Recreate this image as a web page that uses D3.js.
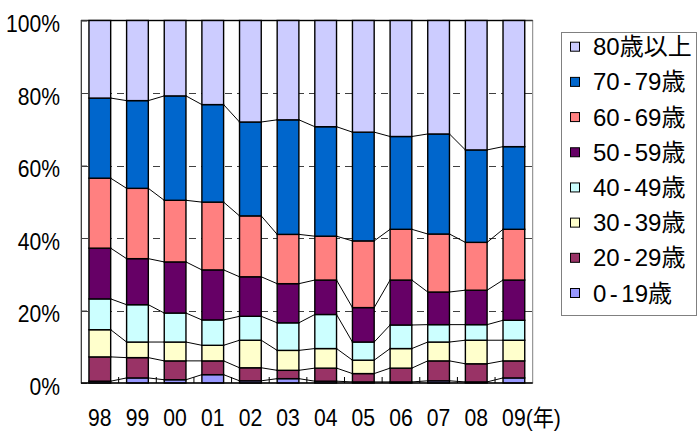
<!DOCTYPE html>
<html>
<head>
<meta charset="utf-8">
<script src="https://cdn.jsdelivr.net/npm/d3@7"></script>
<style>
  html, body { margin: 0; padding: 0; background: #fff; }
  svg { display: block; }
  text { font-family: "Liberation Sans", Arial, "Noto Sans CJK JP", sans-serif; fill: #000; }
</style>
</head>
<body>
<svg id="chart" width="698" height="432"></svg>
<script>
// Years (x categories)
const years = ["98", "99", "00", "01", "02", "03", "04", "05", "06", "07", "08", "09"];

// Share of each age group per year (%)
const age0_19   = [0.5, 1.4, 0.9, 2.3, 0.6, 1.2, 0.5, 0.3, 0.3, 0.6, 0.3, 1.4];
const age20_29  = [6.7, 5.6, 5.2, 3.8, 3.6, 2.3, 3.6, 2.3, 3.8, 5.5, 5.0, 4.7];
const age30_39  = [7.5, 4.3, 5.2, 4.3, 7.6, 5.5, 5.4, 3.7, 5.4, 5.2, 6.5, 5.7];
const age40_49  = [8.5, 10.3, 8.0, 7.0, 6.6, 7.6, 9.4, 5.0, 6.5, 4.8, 4.3, 5.5];
const age50_59  = [14.0, 12.7, 14.1, 13.8, 10.9, 10.8, 9.5, 9.5, 12.4, 9.0, 9.5, 11.1];
const age60_69  = [19.3, 19.4, 17.0, 18.7, 16.8, 13.6, 12.1, 18.4, 14.0, 16.0, 13.2, 14.0];
const age70_79  = [22.1, 24.2, 28.8, 26.9, 25.9, 31.6, 30.2, 30.0, 25.6, 27.6, 25.5, 22.8];
const age80plus = [21.4, 22.1, 20.8, 23.2, 28.0, 27.4, 29.3, 30.8, 32.0, 31.3, 35.7, 34.8];

// Series names, bottom of the stack first
const seriesNames = ["0-19歳", "20-29歳", "30-39歳", "40-49歳", "50-59歳", "60-69歳", "70-79歳", "80歳以上"];
const seriesValues = [age0_19, age20_29, age30_39, age40_49, age50_59, age60_69, age70_79, age80plus];
const seriesColors = ["#9999FF", "#993366", "#FFFFCC", "#CCFFFF", "#660066", "#FF8080", "#0066CC", "#CCCCFF"];

// Y-axis tick labels
const yTicks = [0, 0.2, 0.4, 0.6, 0.8, 1];
const yTickLabels = ["0%", "20%", "40%", "60%", "80%", "100%"];
const yearUnit = "(年)";

const svg = d3.select("#chart");
const plot = { left: 81, right: 532.7, top: 20.5, bottom: 383 };
const axisFont = 24;
const axisSqueeze = 0.88;

// Rows for the stack layout
const rows = years.map((yr, i) => {
  const r = { year: yr };
  seriesNames.forEach((s, k) => { r[s] = seriesValues[k][i]; });
  return r;
});
const stacked = d3.stack().keys(seriesNames).offset(d3.stackOffsetExpand)(rows);

const x = d3.scaleBand().domain(years).range([plot.left, plot.right])
  .paddingInner(0.423).paddingOuter(0.2115);
const y = d3.scaleLinear().domain([0, 1]).range([plot.bottom, plot.top]);
const step = x.step();
const bw = x.bandwidth();

// Plot frame
svg.append("rect")
  .attr("x", plot.left).attr("y", plot.top)
  .attr("width", plot.right - plot.left).attr("height", plot.bottom - plot.top)
  .attr("fill", "#fff").attr("stroke", "#808080").attr("stroke-width", 1);

// Dashed gridlines
svg.append("g").selectAll("line")
  .data(yTicks.filter(t => t > 0 && t < 1))
  .join("line")
  .attr("x1", plot.left).attr("x2", plot.right)
  .attr("y1", d => Math.round(y(d)) + 0.5).attr("y2", d => Math.round(y(d)) + 0.5)
  .attr("stroke", "#404040").attr("stroke-width", 1)
  .attr("stroke-dasharray", "7,5");

// Top border line
svg.append("line")
  .attr("x1", plot.left).attr("x2", plot.right)
  .attr("y1", plot.top).attr("y2", plot.top)
  .attr("stroke", "#333").attr("stroke-width", 1.5);

// Series lines joining segment tops of neighbouring bars
const seriesLineG = svg.append("g");
stacked.forEach(layer => {
  for (let i = 0; i < layer.length - 1; i++) {
    seriesLineG.append("line")
      .attr("x1", x(years[i]) + bw).attr("y1", y(layer[i][1]))
      .attr("x2", x(years[i + 1])).attr("y2", y(layer[i + 1][1]))
      .attr("stroke", "#000").attr("stroke-width", 1);
  }
});

// Stacked bars
svg.append("g").selectAll("g")
  .data(stacked)
  .join("g")
  .attr("fill", (d, k) => seriesColors[k])
  .selectAll("rect")
  .data(d => d.map(v => Object.assign(v, { year: v.data.year })))
  .join("rect")
  .attr("x", d => x(d.year))
  .attr("y", d => y(d[1]))
  .attr("width", bw)
  .attr("height", d => y(d[0]) - y(d[1]))
  .attr("stroke", "#000").attr("stroke-width", 1.4);

// Left axis with inside ticks
const yAxis = svg.append("g").attr("transform", `translate(${plot.left},0)`)
  .call(d3.axisLeft(y).tickValues(yTicks).tickSizeInner(-6).tickSizeOuter(0).tickFormat(""));
yAxis.select(".domain").attr("stroke", "#404040");
yAxis.selectAll(".tick line").attr("stroke", "#404040");

// Y labels (slightly condensed)
svg.append("g").selectAll("text")
  .data(yTicks)
  .join("text")
  .attr("transform", d => `translate(60,${y(d) + 11.5}) scale(${axisSqueeze},1)`)
  .attr("text-anchor", "end")
  .attr("font-size", axisFont)
  .text((d, i) => yTickLabels[i]);

// Bottom axis: category boundary ticks pointing inward
const boundaries = d3.range(1, years.length).map(k => plot.left + k * step);
svg.append("g").selectAll("line")
  .data(boundaries)
  .join("line")
  .attr("x1", d => d).attr("x2", d => d)
  .attr("y1", plot.bottom).attr("y2", plot.bottom - 6)
  .attr("stroke", "#000").attr("stroke-width", 1);
svg.append("line")
  .attr("x1", plot.left).attr("x2", plot.right)
  .attr("y1", plot.bottom).attr("y2", plot.bottom)
  .attr("stroke", "#000").attr("stroke-width", 1.5);

// Year labels (slightly condensed); the unit follows the last year
const xFont = 23;
const xLabels = svg.append("g");
years.forEach((yr, i) => {
  const g = xLabels.append("g")
    .attr("transform", `translate(${x(yr) + bw / 2},426) scale(0.92,1)`);
  const t = g.append("text")
    .attr("text-anchor", "middle")
    .attr("font-size", xFont)
    .text(yr);
  if (i === years.length - 1) {
    const b = t.node().getBBox();
    g.append("text")
      .attr("x", b.x + b.width)
      .attr("font-size", xFont)
      .text(yearUnit);
  }
});

// Legend
const legend = svg.append("g");
legend.append("rect")
  .attr("x", 561.5).attr("y", 32.5).attr("width", 135).attr("height", 283)
  .attr("fill", "#fff").attr("stroke", "#808080").attr("stroke-width", 1);

const legendOrder = d3.range(seriesNames.length).reverse();
const rowY = d3.scalePoint().domain(legendOrder).range([46.7, 293]);
legendOrder.forEach(k => {
  const cy = rowY(k);
  legend.append("rect")
    .attr("x", 570.5).attr("y", cy - 4.5).attr("width", 9).attr("height", 9)
    .attr("fill", seriesColors[k]).attr("stroke", "#000").attr("stroke-width", 1);
  const txt = legend.append("text")
    .attr("x", 593).attr("y", cy + 8.5)
    .attr("font-size", 24);
  const parts = seriesNames[k].split("-");
  if (parts.length === 2) {
    txt.append("tspan").text(parts[0]);
    txt.append("tspan").attr("dx", 3.5).text("-");
    txt.append("tspan").attr("dx", 3.5).text(parts[1]);
  } else {
    txt.text(seriesNames[k]);
  }
});
</script>
</body>
</html>
